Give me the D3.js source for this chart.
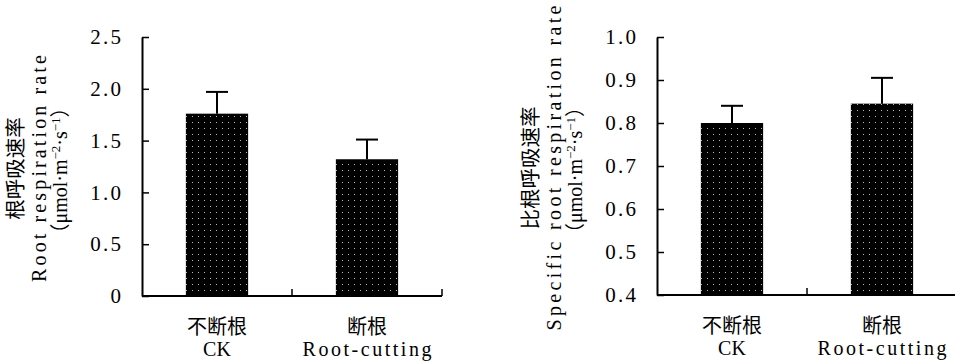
<!DOCTYPE html>
<html>
<head>
<meta charset="utf-8">
<script src="https://cdn.jsdelivr.net/npm/d3@7"></script>
<style>
  body { margin: 0; background: #fff; }
  text { fill: #000; }
</style>
</head>
<body>
<div class="chart"></div>
<script>
// Data
const categoriesCn = ['不断根', '断根'];
const categoriesEn = ['CK', 'Root-cutting'];

const rootRate = [1.76, 1.32];
const rootRateErr = [0.21, 0.19];
const rootTicks = [0, 0.5, 1.0, 1.5, 2.0, 2.5];

const specificRate = [0.80, 0.845];
const specificRateErr = [0.04, 0.06];
const specificTicks = [0.4, 0.5, 0.6, 0.7, 0.8, 0.9, 1.0];

const latinFont = '"Liberation Serif", "Noto Sans CJK SC", serif';
const cjkFont = '"Noto Sans CJK SC", sans-serif';
// the original uses a half-width font: about 10.9px per latin character
const charW = 10.9;

const svg = d3.select('.chart')
  .append('svg')
  .attr('width', 955)
  .attr('height', 362);

// stretch a latin text to the width of the original half-width font
function monoWidth(sel, target) {
  sel.each(function (d) {
    const t = d3.select(this);
    const want = target != null ? target : t.text().length * charW - 2;
    if (this.getComputedTextLength() < want) {
      t.attr('textLength', want).attr('lengthAdjust', 'spacing');
    }
  });
}

// dotted fill for the bars
const pat = svg.append('defs').append('pattern')
  .attr('id', 'dots')
  .attr('patternUnits', 'userSpaceOnUse')
  .attr('width', 6)
  .attr('height', 6);
pat.append('rect').attr('width', 6).attr('height', 6).attr('fill', '#000');
pat.append('rect').attr('x', 2).attr('y', 2).attr('width', 1).attr('height', 1).attr('fill', '#bbb');

function drawPanel(left, top, bottom, domain, ticks, fmt, values, errors, titleCn, titleEn) {
  const w = 300;
  const g = svg.append('g').attr('transform', `translate(${left},0)`);

  const x = d3.scaleBand().domain(categoriesEn).range([0, w]).paddingInner(0.585).paddingOuter(0.2925);
  const y = d3.scaleLinear().domain(domain).range([bottom, top]);

  // Bars
  g.selectAll('.bar')
    .data(values)
    .enter().append('rect')
    .attr('class', 'bar')
    .attr('x', (d, i) => x(categoriesEn[i]))
    .attr('y', d => y(d))
    .attr('width', x.bandwidth())
    .attr('height', d => y(domain[0]) - y(d))
    .attr('fill', 'url(#dots)');

  // Error bars (upper only)
  const cx = i => x(categoriesEn[i]) + x.bandwidth() / 2;
  g.selectAll('.err')
    .data(values)
    .enter().append('line')
    .attr('x1', (d, i) => cx(i)).attr('x2', (d, i) => cx(i))
    .attr('y1', d => y(d)).attr('y2', (d, i) => y(d + errors[i]))
    .attr('stroke', '#000').attr('stroke-width', 2);
  g.selectAll('.cap')
    .data(values)
    .enter().append('line')
    .attr('x1', (d, i) => cx(i) - 11).attr('x2', (d, i) => cx(i) + 11)
    .attr('y1', (d, i) => y(d + errors[i])).attr('y2', (d, i) => y(d + errors[i]))
    .attr('stroke', '#000').attr('stroke-width', 2);

  // Y axis
  const yAxis = g.append('g')
    .call(d3.axisLeft(y).tickValues(ticks).tickSizeInner(-7).tickSizeOuter(0).tickPadding(21).tickFormat(fmt));
  yAxis.select('.domain').attr('stroke-width', 2);
  yAxis.selectAll('.tick line').attr('stroke-width', 1.5);
  yAxis.selectAll('.tick text')
    .attr('font-family', latinFont).attr('font-size', 21).attr('fill', '#000')
    .call(monoWidth);

  // X axis: baseline with ticks on band boundaries
  g.append('line')
    .attr('x1', 0).attr('x2', w)
    .attr('y1', bottom).attr('y2', bottom)
    .attr('stroke', '#000').attr('stroke-width', 2);
  g.selectAll('.xtick')
    .data(d3.range(1, categoriesEn.length + 1))
    .enter().append('line')
    .attr('x1', i => i * x.step()).attr('x2', i => i * x.step())
    .attr('y1', bottom).attr('y2', bottom - 7)
    .attr('stroke', '#000').attr('stroke-width', 1.5);

  // Category labels
  g.selectAll('.catCn')
    .data(categoriesCn)
    .enter().append('text')
    .attr('x', (d, i) => cx(i)).attr('y', bottom + 38)
    .attr('text-anchor', 'middle')
    .attr('font-family', cjkFont).attr('font-size', 20)
    .text(d => d);
  g.selectAll('.catEn')
    .data(categoriesEn)
    .enter().append('text')
    .attr('x', (d, i) => cx(i)).attr('y', bottom + 60)
    .attr('text-anchor', 'middle')
    .attr('font-family', latinFont).attr('font-size', 20)
    .text(d => d)
    .call(monoWidth);

  // Y axis title (three rotated lines)
  const mid = (top + bottom) / 2 + 2;
  g.append('text')
    .attr('transform', `translate(${-119},${mid}) rotate(-90)`)
    .attr('text-anchor', 'middle')
    .attr('font-family', cjkFont).attr('font-size', 20.5)
    .text(titleCn);
  g.append('text')
    .attr('transform', `translate(${-96},${mid}) rotate(-90)`)
    .attr('text-anchor', 'middle')
    .attr('font-family', latinFont).attr('font-size', 20)
    .text(titleEn)
    .call(monoWidth);
  const unit = g.append('text')
    .attr('transform', `translate(${-75},${mid + 2}) rotate(-90)`)
    .attr('text-anchor', 'middle')
    .attr('font-family', latinFont).attr('font-size', 20);
  unit.append('tspan').text('（μmol·m');
  unit.append('tspan').attr('dy', -7).attr('font-size', 13).text('−2');
  unit.append('tspan').attr('dy', 7).text('·s');
  unit.append('tspan').attr('dy', -7).attr('font-size', 13).text('−1');
  unit.append('tspan').attr('dy', 7).text('）');
  unit.call(monoWidth, 145);
}

drawPanel(142, 37, 296, [0, 2.5], rootTicks,
  d => d === 0 ? '0' : d3.format('.1f')(d),
  rootRate, rootRateErr, '根呼吸速率', 'Root respiration rate');

drawPanel(657, 37, 295, [0.4, 1.0], specificTicks,
  d3.format('.1f'),
  specificRate, specificRateErr, '比根呼吸速率', 'Specific root respiration rate');
</script>
</body>
</html>
